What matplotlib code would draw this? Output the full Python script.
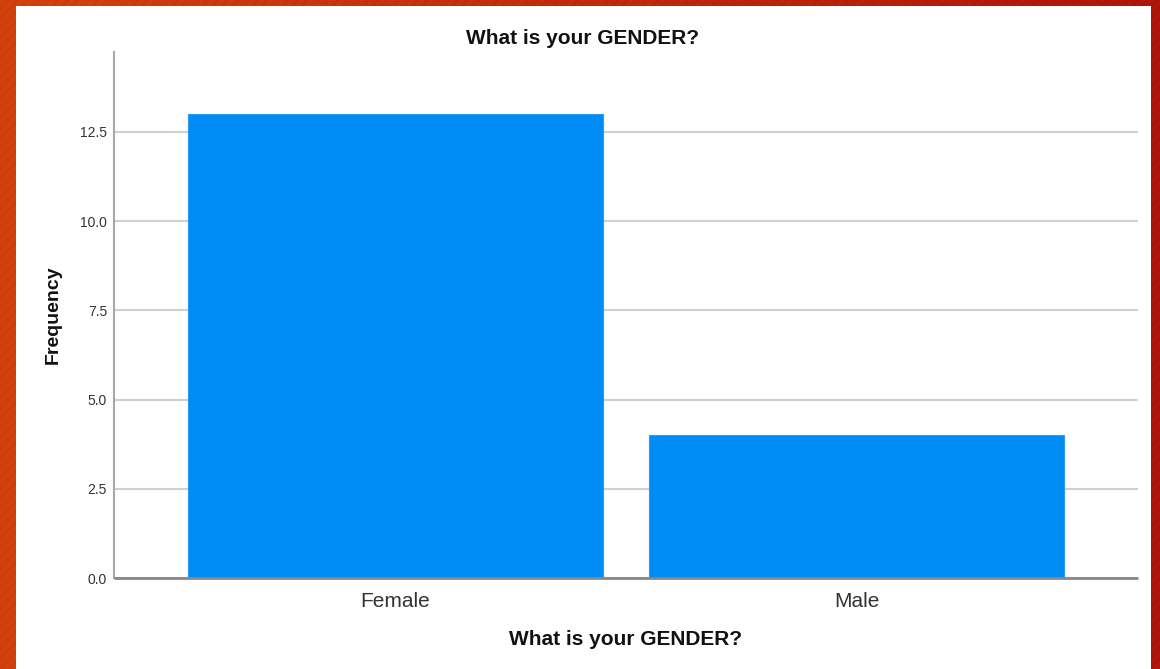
import numpy as np
import matplotlib
matplotlib.use("Agg")
import matplotlib.pyplot as plt
from matplotlib.patches import Rectangle

plt.rcParams["font.family"] = ["Liberation Sans", "DejaVu Sans"]

# Data
categories = ["Female", "Male"]
frequency = [13, 4]
y_ticks = [0.0, 2.5, 5.0, 7.5, 10.0, 12.5]

W, H = 1160, 669
fig = plt.figure(figsize=(W / 100, H / 100), dpi=100)

# -----------------------
# Striped orange/red frame
# -----------------------
bg = fig.add_axes([0, 0, 1, 1])
xx, yy = np.meshgrid(np.arange(W), np.arange(H))
t = xx / (W - 1)
left_col = np.array([214, 66, 14]) / 255
right_col = np.array([176, 22, 10]) / 255
img = left_col[None, None, :] * (1 - t[..., None]) + right_col[None, None, :] * t[..., None]
stripes = ((xx + yy) // 5) % 2
img = img * (1 - 0.04 * stripes[..., None])
bg.imshow(img, extent=[0, W, 0, H], aspect="auto")
bg.add_patch(Rectangle((16, 0), 1151 - 16, H - 6, facecolor="white", edgecolor="none"))
bg.set_xlim(0, W)
bg.set_ylim(0, H)
bg.axis("off")

# -----------------------
# Bar chart
# -----------------------
ax = fig.add_axes([114 / W, 91 / H, (1138 - 114) / W, (578 - 52) / H])
ax.set_facecolor("none")
x = np.arange(len(categories))
ax.bar(x, frequency, width=0.9, color="#008CF5", edgecolor="#2A9BF0", linewidth=0.8, zorder=3)

ax.set_xlim(-0.61, 1.61)
ax.set_ylim(0, 14.74)
ax.set_xticks(x)
ax.set_xticklabels(categories, fontsize=15, color="#333333")
ax.set_yticks(y_ticks)
ax.set_yticklabels([f"{v:.1f}" for v in y_ticks], fontsize=10, color="#333333")
ax.tick_params(axis="x", length=0, pad=10)
ax.tick_params(axis="y", length=0, pad=5)

ax.yaxis.grid(True, color="#D0D0D0", linewidth=1.5, zorder=0)
ax.set_axisbelow(True)

for side in ["top", "right"]:
    ax.spines[side].set_visible(False)
ax.spines["left"].set_color("#A8A8A8")
ax.spines["left"].set_linewidth(1.5)
ax.spines["bottom"].set_color("#888888")
ax.spines["bottom"].set_linewidth(2)
ax.spines["bottom"].set_capstyle("butt")
ax.spines["bottom"].set_zorder(4)

ax.set_xlabel("What is your GENDER?", fontsize=15, fontweight="bold", color="#111111")
ax.xaxis.set_label_coords(0.5, (578 - 630) / 526)
ax.set_ylabel("Frequency", fontsize=14, fontweight="bold", color="#111111")
ax.yaxis.set_label_coords((62 - 114) / 1024, 0.5)

fig.text(583 / W, (H - 38) / H, "What is your GENDER?", fontsize=15, fontweight="bold",
         color="#111111", ha="center", va="center")

fig.savefig("out.png", dpi=100)
